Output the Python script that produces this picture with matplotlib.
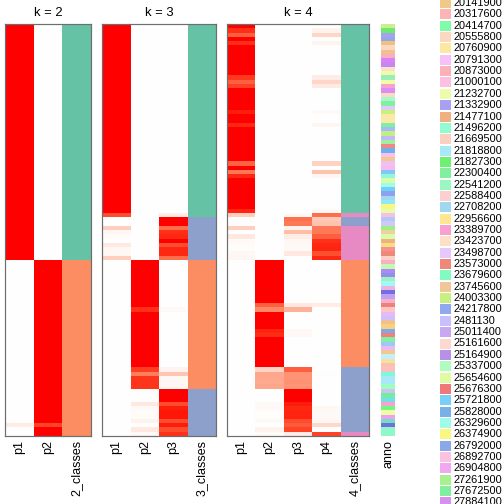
import numpy as np
import matplotlib
matplotlib.use('Agg')
import matplotlib.pyplot as plt
from matplotlib.colors import ListedColormap
from matplotlib.patches import Rectangle

plt.rcParams['font.family'] = ['Liberation Sans', 'DejaVu Sans']

# membership probabilities, one value per sample (96 samples, same order in all panels)
k2_p1 = [1, 1, 1, 1, 1, 1, 1, 1, 1, 1, 1, 1,
         1, 1, 1, 1, 1, 1, 1, 1, 1, 1, 1, 1,
         1, 1, 1, 1, 1, 1, 1, 1, 1, 1, 1, 1,
         1, 1, 1, 1, 1, 1, 1, 1, 1, 1, 1, 1,
         1, 1, 1, 1, 1, 1, 1, 0, 0, 0, 0, 0,
         0, 0, 0, 0, 0, 0, 0, 0, 0, 0, 0, 0,
         0, 0, 0, 0, 0, 0, 0, 0, 0, 0, 0, 0,
         0, 0, 0, 0, 0, 0, 0, 0, 0, .10, 0, 0]
k2_p2 = [0, 0, 0, 0, 0, 0, 0, 0, 0, 0, 0, 0,
         0, 0, 0, 0, 0, 0, 0, 0, 0, 0, 0, 0,
         0, 0, 0, 0, 0, 0, 0, 0, 0, 0, 0, 0,
         0, 0, 0, 0, 0, 0, 0, 0, 0, 0, 0, 0,
         0, 0, 0, 0, 0, 0, 0, 1, 1, 1, 1, 1,
         1, 1, 1, 1, 1, 1, 1, 1, 1, 1, 1, 1,
         1, 1, 1, 1, 1, 1, 1, 1, 1, 1, 1, 1,
         1, 1, 1, 1, 1, 1, 1, 1, 1, .88, 1, 1]

k3_p1 = [1, 1, 1, 1, 1, 1, 1, 1, 1, 1, 1, 1,
         1, 1, 1, 1, 1, 1, 1, 1, 1, 1, 1, 1,
         1, 1, 1, 1, 1, 1, 1, 1, 1, 1, 1, 1,
         1, 1, 1, 1, 1, 1, 1, 1, .85, 0, 0, .25,
         .05, .02, 0, .12, .04, .04, .25, 0, 0, 0, 0, 0,
         0, 0, 0, 0, 0, 0, 0, 0, 0, 0, 0, 0,
         0, 0, 0, 0, 0, 0, 0, 0, 0, 0, 0, 0,
         0, 0, 0, 0, 0, 0, 0, 0, 0, 0, 0, 0]
k3_p2 = [0, 0, 0, 0, 0, 0, 0, 0, 0, 0, 0, 0,
         0, 0, 0, 0, 0, 0, 0, 0, 0, 0, 0, 0,
         0, 0, 0, 0, 0, 0, 0, 0, 0, 0, 0, 0,
         0, 0, 0, 0, 0, 0, 0, 0, 0, 0, 0, 0,
         0, 0, 0, 0, 0, 0, 0, 1, 1, 1, 1, 1,
         1, 1, 1, 1, 1, 1, .93, 1, 1, 1, 1, 1,
         1, 1, 1, 1, 1, 1, 1, 1, .90, .65, .92, .92,
         .92, 0, 0, 0, .12, .03, .02, .02, .07, 0, .12, .03]
k3_p3 = [0, 0, 0, 0, 0, 0, 0, 0, 0, 0, 0, 0,
         0, 0, 0, 0, 0, 0, 0, 0, 0, 0, 0, 0,
         0, 0, 0, 0, 0, 0, 0, 0, 0, 0, 0, 0,
         0, 0, 0, 0, 0, 0, 0, 0, .10, 1, 1, .72,
         .93, .95, 1, .85, .95, .95, .72, 0, 0, 0, 0, 0,
         0, 0, 0, 0, 0, 0, .03, 0, 0, 0, 0, 0,
         0, 0, 0, 0, 0, 0, 0, 0, .06, .30, .04, .04,
         .04, 1, 1, 1, .85, .97, .98, .98, .85, .97, .85, .93]

k4_p1 = [1, .93, .78, 1, .94, 1, 1, 1, 1, 1, 1, 1,
         .91, .78, .89, 1, 1, 1, 1, 1, .97, 1, 1, .95,
         1, 1, 1, 1, 1, 1, 1, 1, .77, 1, .68, .95,
         1, 1, 1, 1, 1, 1, 1, .96, .25, .01, .01, .25,
         0, .12, .03, .02, .01, .04, .05, 0, 0, 0, 0, 0,
         0, 0, 0, 0, 0, 0, 0, 0, 0, 0, 0, 0,
         0, 0, 0, 0, 0, 0, 0, 0, 0, 0, 0, 0,
         0, 0, 0, 0, 0, 0, 0, 0, 0, 0, 0, 0]
k4_p2 = [0, 0, 0, 0, 0, 0, 0, 0, 0, 0, 0, 0,
         0, 0, 0, 0, 0, 0, 0, 0, 0, 0, 0, 0,
         0, 0, 0, 0, 0, 0, 0, 0, 0, 0, 0, 0,
         0, 0, 0, 0, 0, 0, 0, 0, 0, 0, 0, 0,
         0, 0, 0, 0, 0, 0, 0, 1, 1, 1, 1, 1,
         1, 1, 1, 1, 1, .78, .60, 1, 1, 1, 1, .96,
         .94, 1, 1, 1, 1, 1, 1, 1, .22, .45, .45, .44,
         .46, 0, 0, 0, .03, .03, .01, .01, .03, 0, .07, .02]
k4_p3 = [0, 0, 0, 0, 0, 0, 0, 0, 0, 0, 0, 0,
         0, 0, 0, 0, 0, 0, 0, 0, 0, 0, 0, 0,
         0, 0, 0, 0, 0, 0, 0, 0, 0, 0, 0, 0,
         0, 0, 0, 0, 0, 0, 0, 0, .03, .71, .67, .07,
         .33, .10, .04, .03, .03, .12, 0, 0, 0, 0, 0, 0,
         0, 0, 0, 0, 0, .12, .40, 0, 0, 0, 0, .03,
         .03, 0, 0, 0, 0, 0, 0, 0, .78, .55, .55, .56,
         .54, 1, 1, 1, .97, .95, .96, .96, .85, .80, .88, .10]
k4_p4 = [0, .07, .22, 0, .06, 0, 0, 0, 0, 0, 0, 0,
         .09, .22, .11, 0, 0, 0, 0, 0, .03, 0, 0, .05,
         0, 0, 0, 0, 0, 0, 0, 0, .23, 0, .32, .05,
         0, 0, 0, 0, 0, 0, 0, .04, .72, .28, .32, .68,
         .67, .78, .93, .95, .96, .84, .95, 0, 0, 0, 0, 0,
         0, 0, 0, 0, 0, .10, 0, 0, 0, 0, 0, 0,
         0, 0, 0, 0, 0, 0, 0, 0, 0, .01, 0, 0,
         0, 0, 0, 0, 0, .04, .03, .03, .05, .20, 0, .88]

# sample annotation colours (top to bottom)
anno_colors = ['#c8f090', '#70e870', '#a8a0f0', '#90a8e8', '#f0c080', '#fcd8c0',
               '#f0c090', '#f8b0c0', '#d880f8', '#c088f0', '#fce0c8', '#f0fca8',
               '#98f0b8', '#f0fca8', '#f8a0d0', '#d890f0', '#fcd8c8', '#a8f8c8',
               '#80f0a0', '#e0c8f8', '#c8f080', '#fce8a8', '#fce8a8', '#80f0a0',
               '#a8b8f8', '#c0f080', '#c0b8f8', '#a0f0a0', '#f08888', '#70b0e8',
               '#f8c0f0', '#f0c890', '#f0c0f0', '#f8b8f0', '#80c8f8', '#90f8d8',
               '#d8fca8', '#a0fce8', '#70d0f8', '#90a0f0', '#a0d8f0', '#90e8f8',
               '#f8f880', '#e8fcb0', '#f8c0e0', '#b0c8f8', '#d0c8f8', '#a0f080',
               '#f0d0a0', '#d8fca8', '#f0b080', '#f8e080', '#f89090', '#f08878',
               '#fcd0c8', '#f8b0c0', '#c0fcb0', '#b088f8', '#9090e8', '#a0f0c0',
               '#a0f8f8', '#f0b0e0', '#7070e0', '#c0a0f0', '#f8b0c8', '#f08080',
               '#fcc8c0', '#e8b8f8', '#d0c0f8', '#f0c090', '#f8d080', '#80a8e8',
               '#f08078', '#80f0a8', '#a0c8f0', '#e8b8f8', '#f0c890', '#c0f0f8',
               '#f8e0a0', '#fcc0b0', '#f8c0c0', '#80f8d8', '#a8e8f8', '#a8e8f8',
               '#a0fcc0', '#d0c0f8', '#70f090', '#70e0e0', '#f8a0d0', '#70f880',
               '#f0fca8', '#f0a0f0', '#70e0c0', '#7070e0', '#90f8c8', '#90f8c8']

# the part of the anno legend that fits on the page
legend_labels = ['20141900', '20317600', '20414700', '20555800', '20760900', '20791300',
                 '20873000', '21000100', '21232700', '21332900', '21477100', '21496200',
                 '21669500', '21818800', '21827300', '22300400', '22541200', '22588400',
                 '22708200', '22956600', '23389700', '23423700', '23498700', '23573000',
                 '23679600', '23745600', '24003300', '24217800', '2481130', '25011400',
                 '25161600', '25164900', '25337000', '25654600', '25676300', '25721800',
                 '25828000', '26329600', '26374900', '26792000', '26892700', '26904800',
                 '27261900', '27672500', '27884100']
legend_colors = ['#f0c888', '#fcb4b4', '#80fca8', '#fcd8c0', '#fce8a0', '#f8c0f8',
                 '#fcb0b8', '#fcc0e0', '#ecfca8', '#a8a0f0', '#f0b080', '#90fcd0',
                 '#fcd0c0', '#a8e8f8', '#70f070', '#80f0a0', '#98f8c0', '#fcd0d0',
                 '#a0d8f0', '#fce890', '#f8a0d0', '#fce0c8', '#e8c8fc', '#f08878',
                 '#80fcc0', '#f0c898', '#c8f080', '#90a8f0', '#c8c0fc', '#c8a8f0',
                 '#fcd8d0', '#b890e8', '#b0fcc0', '#e0fca0', '#f07878', '#78d0f8',
                 '#78b0e8', '#a0fce8', '#f8f880', '#88a8e8', '#fcc0e0', '#f0a8f0',
                 '#a8f090', '#80f0a0', '#d890f0']

class_colors = ['#66c2a5', '#fc8d62', '#8da0cb', '#e78ac3']


def white_red(t):
    # white -> red ramp interpolated in CIE Lab
    t = np.asarray(t, float)
    L = 100 + t * (53.24 - 100)
    a = t * 80.09
    b = t * 67.20
    fy = (L + 16) / 116
    fx = fy + a / 500
    fz = fy - b / 200
    finv = lambda f: np.where(f ** 3 > 0.008856, f ** 3, (f - 16 / 116) / 7.787)
    xyz = np.stack([0.95047 * finv(fx), finv(fy), 1.08883 * finv(fz)], -1)
    M = np.array([[3.2406, -1.5372, -0.4986],
                  [-0.9689, 1.8758, 0.0415],
                  [0.0557, -0.2040, 1.0570]])
    rgb = np.clip(xyz @ M.T, 0, 1)
    rgb = np.where(rgb <= 0.0031308, 12.92 * rgb, 1.055 * rgb ** (1 / 2.4) - 0.055)
    return np.clip(rgb, 0, 1)


prob_cmap = ListedColormap(white_red(np.linspace(0, 1, 256)))

fig = plt.figure(figsize=(7, 7), dpi=72)
W = H = 504.0
top, bottom = 24.0, 435.7


def add_ax(x0, x1):
    return fig.add_axes([x0 / W, 1 - bottom / H, (x1 - x0) / W, (bottom - top) / H])


panels = [([k2_p1, k2_p2], 5, 91),
          ([k3_p1, k3_p2, k3_p3], 102, 216),
          ([k4_p1, k4_p2, k4_p3, k4_p4], 227, 369)]

for cols, x0, x1 in panels:
    k = len(cols)
    prob = np.array(cols).T
    n = prob.shape[0]
    cls = prob.argmax(axis=1) + 1
    ax = add_ax(x0, x1)
    ax.imshow(prob, cmap=prob_cmap, vmin=0, vmax=1, aspect='auto',
              interpolation='nearest', extent=(0, k, n, 0))
    ax.imshow(cls[:, None], cmap=ListedColormap(class_colors[:k]), vmin=0.5, vmax=k + 0.5,
              aspect='auto', interpolation='nearest', extent=(k, k + 1, n, 0))
    ax.set_xlim(0, k + 1)
    ax.set_ylim(n, 0)
    ax.set_xticks(np.arange(k + 1) + 0.5)
    ax.set_xticklabels(['p%d' % (i + 1) for i in range(k)] + ['%d_classes' % k],
                       rotation=90, fontsize=12.5)
    ax.tick_params(axis='x', length=0, pad=4)
    ax.set_yticks([])
    for s in ax.spines.values():
        s.set_color('#6e6e6e')
        s.set_linewidth(1.2)
    ax.set_title('k = %d' % k, fontsize=13, pad=8)

# annotation column
ax = add_ax(381, 395)
anno_rgb = np.array([matplotlib.colors.to_rgb(c) for c in anno_colors])[:, None, :]
ax.imshow(anno_rgb, aspect='auto', interpolation='nearest',
          extent=(0, 1, len(anno_colors), 0))
ax.set_xticks([0.5])
ax.set_xticklabels(['anno'], rotation=90, fontsize=12.5)
ax.tick_params(axis='x', length=0, pad=4)
ax.set_yticks([])
for s in ax.spines.values():
    s.set_visible(False)

# legend (runs off the page at top and bottom)
lax = fig.add_axes([0, 0, 1, 1])
lax.set_xlim(0, W)
lax.set_ylim(H, 0)
lax.axis('off')
for i, (lab, col) in enumerate(zip(legend_labels, legend_colors)):
    yc = 3 + 11.35 * i
    lax.add_patch(Rectangle((440, yc - 5), 11, 10, facecolor=col, edgecolor='none'))
    lax.text(453, yc, lab, va='center', ha='left', fontsize=11)

fig.savefig('out.png', dpi=72)
